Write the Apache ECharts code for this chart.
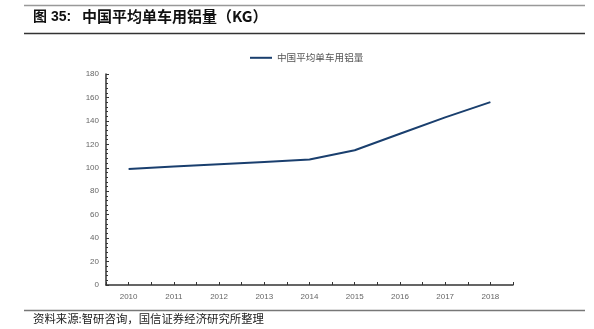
<!DOCTYPE html>
<html>
<head>
<meta charset="utf-8">
<script src="https://cdn.jsdelivr.net/npm/echarts@6/dist/echarts.min.js"></script>
<style>
  html, body { margin: 0; padding: 0; background: #fff; }
  #chart { width: 594px; height: 329px; }
</style>
</head>
<body>
<div id="chart"></div>
<script>
// Average aluminium content per vehicle in China (kg)
const years = ['2010', '2011', '2012', '2013', '2014', '2015', '2016', '2017', '2018'];
const aluminiumKg = [99, 101, 103, 105, 107, 115, 129, 143, 156];
const seriesName = '中国平均单车用铝量';
const titlePrefix = '图 35:';
const titleText = '中国平均单车用铝量（KG）';
const sourceText = '资料来源:智研咨询，国信证券经济研究所整理';

const lineColor = '#1a3f6e';
const axisColor = '#333';
const labelColor = '#666';

const chart = echarts.init(document.getElementById('chart'), null, { renderer: 'canvas' });

chart.setOption({
  animation: false,
  backgroundColor: '#fff',
  textStyle: { fontFamily: 'Arial, "Liberation Sans", "Noto Sans CJK SC"' },
  graphic: [
    { type: 'line', shape: { x1: 24, y1: 5.5, x2: 585, y2: 5.5 }, style: { stroke: '#999', lineWidth: 1.5 } },
    { type: 'line', shape: { x1: 24, y1: 33.5, x2: 585, y2: 33.5 }, style: { stroke: '#333', lineWidth: 1.5 } },
    { type: 'text', left: 33, top: 10, style: { text: titlePrefix, fill: '#111', font: 'bold 14px Arial, "Noto Sans CJK SC"' } },
    { type: 'text', left: 82, top: 9, style: { text: titleText, fill: '#111', font: 'bold 15px "Noto Sans CJK SC", Arial' } },
    { type: 'line', shape: { x1: 24, y1: 310.5, x2: 585, y2: 310.5 }, style: { stroke: '#777', lineWidth: 1.5 } },
    { type: 'text', left: 33, top: 313, style: { text: sourceText, fill: '#222', font: '11.4px "Noto Sans CJK SC"' } }
  ],
  legend: {
    top: 48,
    left: 245,
    itemWidth: 22,
    itemHeight: 2,
    itemGap: 4,
    icon: 'rect',
    textStyle: { color: '#555', fontSize: 9.6, fontFamily: '"Noto Sans CJK SC"' },
    data: [seriesName]
  },
  grid: { left: 106, right: 81, top: 74, bottom: 44, containLabel: false },
  xAxis: [
    {
      type: 'category',
      data: years,
      boundaryGap: true,
      axisLine: { lineStyle: { color: axisColor, width: 1.5 } },
      axisTick: { show: true, inside: true, length: 3, lineStyle: { color: axisColor } },
      axisLabel: { color: labelColor, fontSize: 8, margin: 8 }
    },
    {
      type: 'category',
      data: years,
      boundaryGap: true,
      position: 'bottom',
      axisLine: { show: false },
      axisTick: { show: true, inside: true, alignWithLabel: true, length: 3, lineStyle: { color: axisColor } },
      axisLabel: { show: false }
    }
  ],
  yAxis: {
    type: 'value',
    min: 0,
    max: 180,
    interval: 20,
    axisLine: { show: true, lineStyle: { color: axisColor, width: 1.5 } },
    axisTick: { show: true, inside: true, length: 3, lineStyle: { color: axisColor } },
    minorTick: { show: true, splitNumber: 5, length: 2, lineStyle: { color: axisColor } },
    splitLine: { show: false },
    axisLabel: { color: labelColor, fontSize: 8, margin: 7 }
  },
  series: [
    {
      name: seriesName,
      type: 'line',
      data: aluminiumKg,
      symbol: 'none',
      lineStyle: { color: lineColor, width: 2 },
      itemStyle: { color: lineColor }
    }
  ]
});
</script>
</body>
</html>
